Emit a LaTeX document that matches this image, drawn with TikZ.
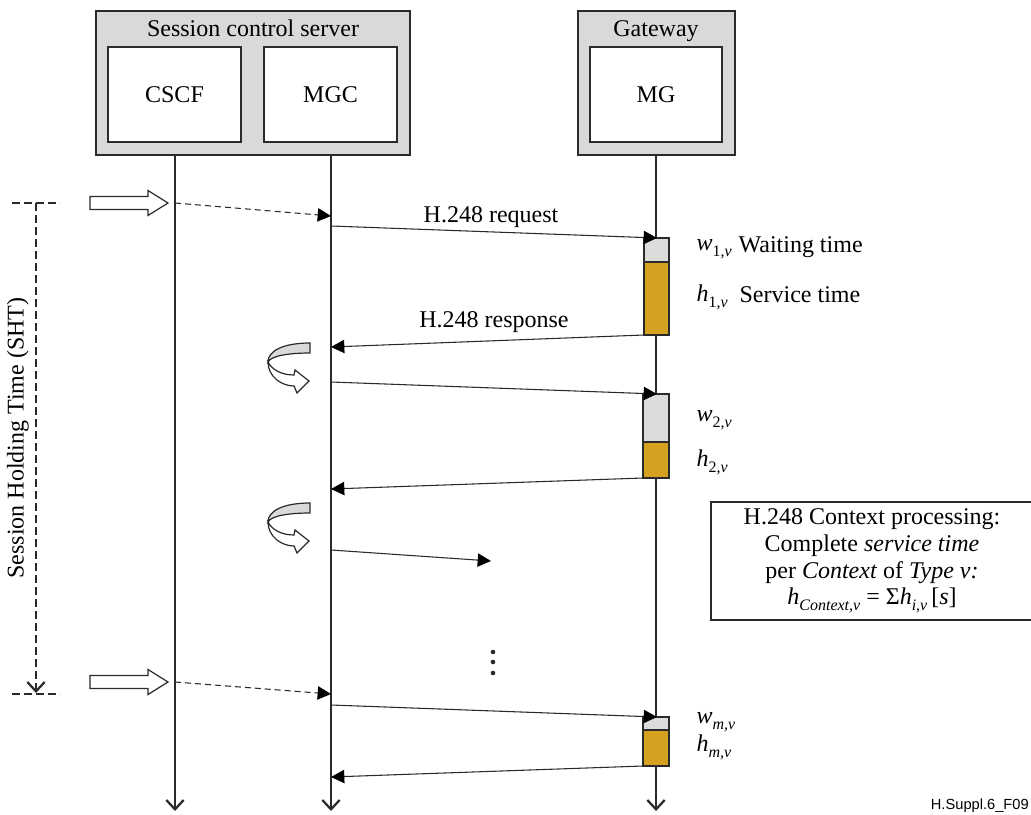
\documentclass[tikz,border=0pt]{standalone}
\usepackage{fontspec}
\setmainfont{Liberation Serif}
\newfontfamily\labelsans{Liberation Sans}
\usetikzlibrary{arrows.meta}
\definecolor{boxgray}{HTML}{D9D9D9}
\definecolor{waitgray}{HTML}{DCDCDA}
\definecolor{gold}{HTML}{D4A121}
\definecolor{linec}{HTML}{2A2A2A}
\newcommand{\mysb}[2]{\textit{#1}\raisebox{-0.55ex}{\fontsize{12}{14}\selectfont #2}}
\tikzset{
  outerbox/.style={draw=linec, line width=0.9pt, fill=boxgray, inner sep=0pt},
  innerbox/.style={draw=linec, line width=0.9pt, fill=white, inner sep=0pt},
  barb/.style={-{Straight Barb[length=7pt,width=13pt,line width=1.7pt]}},
  lifeline/.style={draw=linec, line width=0.8pt, barb},
  msg/.style={draw=linec, line width=0.8pt, -{Triangle[length=10pt,width=10pt,color=black]}},
  dmsg/.style={msg, dash pattern=on 4.5pt off 3pt},
  waitbox/.style={draw=linec, line width=0.9pt, fill=waitgray},
  servbox/.style={draw=linec, line width=0.9pt, fill=gold},
  lbl/.style={inner sep=1pt},
  blockarrow/.style={draw=linec, line width=0.9pt, fill=white},
}
\begin{document}
\begin{tikzpicture}[x=0.75pt,y=-0.75pt,font=\fontsize{18}{21}\selectfont]
\useasboundingbox (0,0) rectangle (1031,814);
% header boxes
\node[outerbox, minimum width=235.5pt, minimum height=108pt] (scs) at (253,83) {};
\node[anchor=base] (scstitle) at (253,36) {Session control server};
\node[innerbox, minimum width=99.75pt, minimum height=71.25pt] (cscf) at (174.5,94.5) {CSCF};
\node[innerbox, minimum width=99.75pt, minimum height=71.25pt] (mgc) at (330.5,94.5) {MGC};
\node[outerbox, minimum width=117.75pt, minimum height=108pt] (gw) at (656.5,83) {};
\node[anchor=base] (gwtitle) at (656,36) {Gateway};
\node[innerbox, minimum width=99pt, minimum height=71.25pt] (mg) at (656,94.5) {MG};
% lifelines
\coordinate (lc0) at (175,155); \coordinate (lc1) at (175,811);
\coordinate (lm0) at (331,155); \coordinate (lm1) at (331,811);
\coordinate (lg0) at (656,155); \coordinate (lg1) at (656,811);
\draw[lifeline] (lc0) -- (lc1);
\draw[lifeline] (lm0) -- (lm1);
\draw[lifeline] (lg0) -- (lg1);
% SHT bracket
\coordinate (sa) at (12,203); \coordinate (sb) at (60,203);
\coordinate (sc) at (12,694); \coordinate (sd) at (60,694);
\coordinate (st) at (36,203); \coordinate (sbot) at (36,693);
\draw[linec, line width=0.9pt, dash pattern=on 6pt off 3pt] (sa) -- (sb);
\draw[linec, line width=0.9pt, dash pattern=on 6pt off 3pt] (sc) -- (sd);
\draw[linec, line width=0.9pt, dash pattern=on 6pt off 3pt, barb] (st) -- (sbot);
\node[rotate=90] (shtlbl) at (18,438) {Session Holding Time (SHT)};
% block arrows
\draw[blockarrow] (90,196.5) -- (148,196.5) -- (148,190.5) -- (168,203) -- (148,215.5) -- (148,209.5) -- (90,209.5) -- cycle;
\draw[blockarrow] (90,675.5) -- (148,675.5) -- (148,669.5) -- (168,682) -- (148,694.5) -- (148,688.5) -- (90,688.5) -- cycle;
% dashed arrows
\coordinate (d1s) at (175,203); \coordinate (d1e) at (331,216);
\coordinate (d2s) at (175,682); \coordinate (d2e) at (331,694);
\draw[dmsg] (d1s) -- (d1e);
\draw[dmsg] (d2s) -- (d2e);
% service boxes
\draw[waitbox] (644,238) rectangle (669,262);
\draw[servbox] (644,262) rectangle (669,335);
\draw[waitbox] (643,394) rectangle (669,442);
\draw[servbox] (643,442) rectangle (669,478);
\draw[waitbox] (643,717) rectangle (669,730);
\draw[servbox] (643,730) rectangle (669,766);
% messages
\coordinate (q1s) at (331,226); \coordinate (q1e) at (657,238);
\coordinate (p1s) at (644,335); \coordinate (p1e) at (331,347);
\coordinate (q2s) at (331,382); \coordinate (q2e) at (657,394);
\coordinate (p2s) at (643,478); \coordinate (p2e) at (331,489);
\coordinate (q3s) at (331,550); \coordinate (q3e) at (491,561);
\coordinate (qms) at (331,705); \coordinate (qme) at (657,717);
\coordinate (pms) at (643,766); \coordinate (pme) at (331,777);
\draw[msg] (q1s) -- (q1e);
\draw[msg] (p1s) -- (p1e);
\draw[msg] (q2s) -- (q2e);
\draw[msg] (p2s) -- (p2e);
\draw[msg] (q3s) -- (q3e);
\draw[msg] (qms) -- (qme);
\draw[msg] (pms) -- (pme);
\node (reqlbl) at (491,217) {H.248 request};
\node (reslbl) at (494,322) {H.248 response};
% labels
\node[lbl, anchor=west] (w1) at (695,249) {\mysb{w}{1,\textit{v}}};
\node[lbl, anchor=west] (wt) at (737,247) {Waiting time};
\node[lbl, anchor=west] (h1) at (695,297) {\mysb{h}{1,\textit{v}}};
\node[lbl, anchor=west] (stl) at (738,295) {Service time};
\node[lbl, anchor=west] (w2) at (695,420) {\mysb{w}{2,\textit{v}}};
\node[lbl, anchor=west] (h2) at (695,462) {\mysb{h}{2,\textit{v}}};
\node[lbl, anchor=west] (wm) at (695,722) {\mysb{w}{\textit{m,v}}};
\node[lbl, anchor=west] (hm) at (695,747) {\mysb{h}{\textit{m,v}}};
% curved arrow icons
\foreach \yy/\nm in {343/ca, 503/cb}{
  \begin{scope}[shift={(268,\yy)}]
    \draw[blockarrow, fill=boxgray] (42,0) .. controls (15,0) and (0,8) .. (0,19) .. controls (3,13) and (20,10) .. (42,10) -- cycle;
    \draw[blockarrow] (0,19) .. controls (0,34) and (14,43) .. (26,43) -- (29,50) -- (41,38) -- (27,27) -- (26,32) .. controls (14,32) and (4,27) .. (0,19) -- cycle;
  \end{scope}
}
% dots
\foreach \yy in {652,662,673}{\fill[linec] (493,\yy) circle (2.3);}
% context box
\node[draw=linec, line width=0.9pt, fill=white, minimum width=247.5pt, minimum height=88.5pt, inner sep=0pt] (ctx) at (876,561) {};
\node[align=center, inner sep=0pt] (ctxtxt) at (872,561) {H.248 Context processing:\\[-1pt]
Complete \textit{service time}\\[-1pt]
per \textit{Context} of \textit{Type v:}\\[-1pt]
\mysb{h}{\textit{Context,v}} = Σ\mysb{h}{\textit{i,v}}\,[\textit{s}]};
% figure id
\node[anchor=east, font=\labelsans\fontsize{11}{13}\selectfont, inner sep=0pt] (figid) at (1029,806) {H.Suppl.6\_F09};
\end{tikzpicture}
\end{document}
